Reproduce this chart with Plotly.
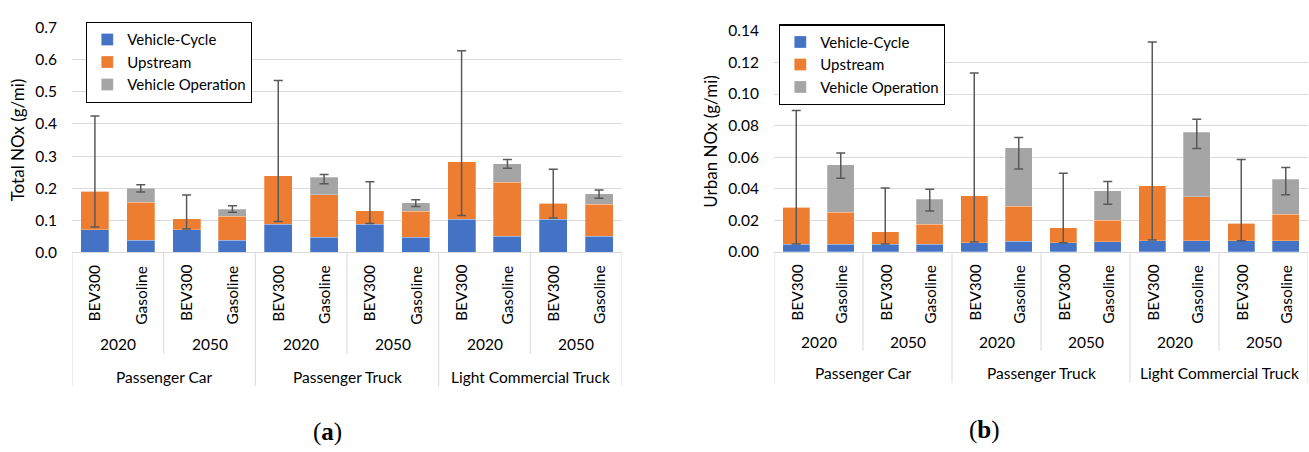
import plotly.graph_objects as go

# ---- categories ----
vehicles = ["Passenger Car", "Passenger Truck", "Light Commercial Truck"]
years = ["2020", "2050"]
fuels = ["BEV300", "Gasoline"]

# ---- Total NOx (g/mi), 12 bars in order vehicle > year > fuel ----
total_cycle = [0.071, 0.038, 0.071, 0.038, 0.088, 0.047, 0.088, 0.047, 0.104, 0.050, 0.104, 0.050]
total_upstream = [0.119, 0.119, 0.034, 0.074, 0.151, 0.133, 0.042, 0.081, 0.178, 0.168, 0.049, 0.100]
total_operation = [0.0, 0.043, 0.0, 0.023, 0.0, 0.054, 0.0, 0.027, 0.0, 0.058, 0.0, 0.032]
total_err_low = [0.079, 0.188, 0.073, 0.125, 0.096, 0.214, 0.090, 0.143, 0.115, 0.262, 0.107, 0.169]
total_err_high = [0.425, 0.211, 0.179, 0.145, 0.535, 0.243, 0.220, 0.164, 0.628, 0.289, 0.259, 0.194]

# ---- Urban NOx (g/mi) ----
urban_cycle = [0.0050, 0.0050, 0.0050, 0.0050, 0.0059, 0.0067, 0.0059, 0.0065, 0.0071, 0.0071, 0.0071, 0.0071]
urban_upstream = [0.0232, 0.0203, 0.0078, 0.0126, 0.0296, 0.0223, 0.0093, 0.0135, 0.0347, 0.0280, 0.0110, 0.0168]
urban_operation = [0.0, 0.0300, 0.0, 0.0158, 0.0, 0.0371, 0.0, 0.0189, 0.0, 0.0407, 0.0, 0.0221]
urban_err_low = [0.0050, 0.0466, 0.0050, 0.0260, 0.0063, 0.0525, 0.0059, 0.0302, 0.0075, 0.0655, 0.0071, 0.0363]
urban_err_high = [0.0896, 0.0626, 0.0405, 0.0397, 0.1133, 0.0725, 0.0499, 0.0446, 0.1330, 0.0841, 0.0586, 0.0535]

series_names = ["Vehicle-Cycle", "Upstream", "Vehicle Operation"]
series_colors = ["#4472C4", "#ED7D31", "#A5A5A5"]

TEXT = "#000000"
GRID = "#D9D9D9"
FONT = "Lato"
W, H = 1309, 452

cats = [f"{v}|{y}|{f}" for v in vehicles for y in years for f in fuels]
fuel_of = [f for v in vehicles for y in years for f in fuels]
year_of = [y for v in vehicles for y in years]
n = len(cats)


def py(px):
    """pixel row -> paper y"""
    return 1 - px / H


fig = go.Figure()

panels = [
    dict(xa="x", ya="y", legend="legend",
         parts=[total_cycle, total_upstream, total_operation],
         lo=total_err_low, hi=total_err_high),
    dict(xa="x2", ya="y2", legend="legend2",
         parts=[urban_cycle, urban_upstream, urban_operation],
         lo=urban_err_low, hi=urban_err_high),
]

for p in panels:
    for name, color, vals in zip(series_names, series_colors, p["parts"]):
        fig.add_trace(go.Bar(
            x=cats, y=vals, name=name,
            marker=dict(color=color, line=dict(width=0.6, color="rgba(255,255,255,0.45)")),
            xaxis=p["xa"], yaxis=p["ya"], legend=p["legend"], hoverinfo="skip",
        ))
    tops = [sum(t) for t in zip(*p["parts"])]
    fig.add_trace(go.Scatter(
        x=cats, y=tops, mode="markers", marker=dict(opacity=0, size=1),
        showlegend=False, hoverinfo="skip", xaxis=p["xa"], yaxis=p["ya"],
        error_y=dict(type="data", symmetric=False,
                     array=[h - t for h, t in zip(p["hi"], tops)],
                     arrayminus=[t - l for l, t in zip(p["lo"], tops)],
                     color="#595959", thickness=1.5, width=4.5),
    ))

# ---- multi-level category labels and separators ----
geo = [
    dict(xref="x", axis_px=252.5, fuel_top=264, year_c=348, group_c=382, ysep=358.3, gsep=391.7),
    dict(xref="x2", axis_px=252.0, fuel_top=263, year_c=346, group_c=378.5, ysep=355, gsep=388.3),
]
annotations = []
shapes = []
for g in geo:
    for i in range(n):
        annotations.append(dict(
            x=i, y=py(g["fuel_top"]), xref=g["xref"], yref="paper", text=fuel_of[i],
            textangle=-90, showarrow=False, xanchor="center", yanchor="top",
            font=dict(family=FONT, size=15.5, color=TEXT)))
    for j, yr in enumerate(year_of):
        annotations.append(dict(
            x=2 * j + 0.5, y=py(g["year_c"]), xref=g["xref"], yref="paper", text=yr,
            showarrow=False, xanchor="center", yanchor="middle",
            font=dict(family=FONT, size=15.5, color=TEXT)))
    for k, v in enumerate(vehicles):
        annotations.append(dict(
            x=4 * k + 1.5, y=py(g["group_c"]), xref=g["xref"], yref="paper", text=v,
            showarrow=False, xanchor="center", yanchor="middle",
            font=dict(family=FONT, size=15.5, color=TEXT)))
    for b in range(0, n + 1, 2):
        end = g["gsep"] if b % 4 == 0 else g["ysep"]
        shapes.append(dict(
            type="line", xref=g["xref"], yref="paper", x0=b - 0.5, x1=b - 0.5,
            y0=py(g["axis_px"]), y1=py(end), line=dict(color=GRID, width=1)))

# panel captions
annotations.append(dict(x=311 / W, y=py(440), xref="paper", yref="paper",
                        text="(<b>a</b>)", showarrow=False, yanchor="middle",
                        font=dict(family="Liberation Serif", size=25, color=TEXT)))
annotations.append(dict(x=1002 / W, y=py(437.5), xref="paper", yref="paper",
                        text="(<b>b</b>)", showarrow=False, yanchor="middle",
                        font=dict(family="Liberation Serif", size=25, color=TEXT)))

xcommon = dict(type="category", showticklabels=False, showgrid=False, zeroline=False,
               showline=True, linecolor=GRID, linewidth=1, ticks="",
               range=[-0.5, n - 0.5], fixedrange=True)
ycommon = dict(showgrid=True, gridcolor=GRID, gridwidth=1, zeroline=False,
               showline=False, ticks="", ticklabelstandoff=14,
               tickfont=dict(family=FONT, size=15.5, color=TEXT),
               title_font=dict(family=FONT, size=17, color=TEXT))

legend_common = dict(bgcolor="white", bordercolor="black", borderwidth=1.3,
                     font=dict(family=FONT, size=15, color=TEXT),
                     traceorder="normal", xanchor="left", yanchor="top",
                     itemclick=False, itemdoubleclick=False)

fig.update_layout(
    width=W, height=H, margin=dict(l=0, r=0, t=0, b=0),
    paper_bgcolor="white", plot_bgcolor="white",
    barmode="stack", bargap=0.39,
    font=dict(family=FONT, color=TEXT),
    xaxis=dict(domain=[72 / W, 622 / W], anchor="y", **xcommon),
    yaxis=dict(domain=[py(252.5), py(18.3)], anchor="x", range=[0, 0.7], dtick=0.1,
               tickformat=".1f", title=dict(text="Total NOx (g/mi)", standoff=6),
               **ycommon),
    xaxis2=dict(domain=[774 / W, 1308 / W], anchor="y2", **xcommon),
    yaxis2=dict(domain=[py(252.0), py(21.7)], anchor="x2", range=[0, 0.14], dtick=0.02,
                tickformat=".2f", title=dict(text="Urban NOx (g/mi)", standoff=6),
                **ycommon),
    legend=dict(x=86 / W, y=py(12.5), **legend_common),
    legend2=dict(x=779 / W, y=py(15), **legend_common),
    annotations=annotations,
    shapes=shapes,
)

fig.write_html("out.html")
